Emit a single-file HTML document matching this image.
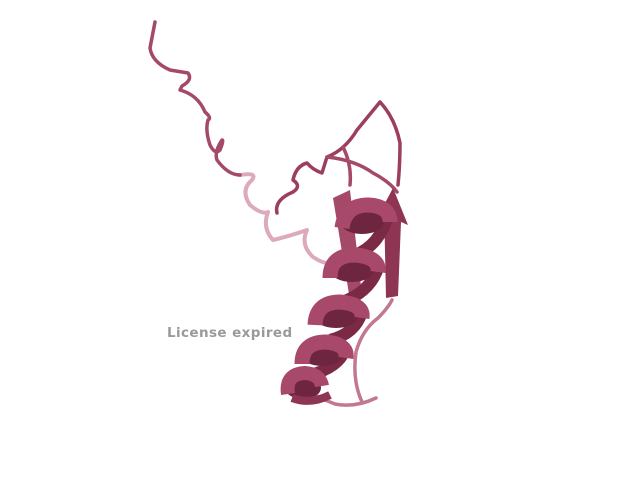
<!DOCTYPE html>
<html><head><meta charset="utf-8"><style>
html,body{margin:0;padding:0;background:#fff}
svg{display:block}
</style></head><body>
<svg width="640" height="480" viewBox="0 0 640 480">
<g fill="none" stroke-linecap="round" stroke-linejoin="round">
<path d="M240,175 Q258,172 252,180 Q240,190 250,205 Q262,215 268,212 Q262,228 273,240 Q290,236 307,230 Q300,245 313,257 Q325,265 330,262" stroke="#dcaabc" stroke-width="4"/>
<path d="M300,385 Q318,398 335,404 Q355,408 376,398 M362,402 Q352,380 356,352 Q362,330 378,318 Q388,308 392,300" stroke="#c27890" stroke-width="3.5"/>
<path d="M155,22 L150,48 Q152,62 170,70 L188,73 Q193,80 182,86 L180,90 Q198,95 205,112 Q212,118 208,120 Q205,130 210,145 Q215,155 220,150 Q224,140 222,140 Q214,152 217,160 Q228,175 240,175" stroke="#a44a68" stroke-width="3.5"/>
<path d="M277,213 Q274,200 293,192 Q302,186 293,180 Q296,166 307,163 Q313,170 322,173 Q326,160 327,157 Q345,150 357,130 L380,102 Q395,118 400,143 Q400,165 398,185" stroke="#9c3e5e" stroke-width="3.5"/>
<path d="M327,157 Q355,160 373,173 Q390,182 397,192 M343,147 Q352,165 350,185" stroke="#a44a68" stroke-width="3.5"/>
</g>
<path d="M333,198 L350,190 L362,295 L350,300 Z" fill="#a44a68"/>
<path d="M384,205 L393,188 L408,225 L401,222 L398,296 L386,298 Z" fill="#8d3553"/>
<g fill="none" stroke-linecap="butt">
<!-- back strands of helix (darker) -->
<path d="M388,215 Q380,245 355,255" stroke="#7a2a45" stroke-width="12"/>
<path d="M378,268 Q370,292 342,302" stroke="#7a2a45" stroke-width="12"/>
<path d="M362,312 Q355,334 330,340" stroke="#7a2a45" stroke-width="12"/>
<path d="M345,350 Q338,368 310,375" stroke="#7a2a45" stroke-width="12"/>
<!-- inner dark -->
<ellipse cx="362" cy="222" rx="22" ry="12" fill="#6e2540"/>
<ellipse cx="352" cy="270" rx="22" ry="12" fill="#6e2540"/>
<ellipse cx="336" cy="316" rx="22" ry="12" fill="#6e2540"/>
<ellipse cx="322" cy="355" rx="21" ry="11" fill="#6e2540"/>
<ellipse cx="303" cy="388" rx="18" ry="11" fill="#6e2540"/>
<!-- front bands -->
<path d="M342,228 Q345,205 368,205 Q390,206 390,222" stroke="#a8486a" stroke-width="15"/>
<path d="M330,278 Q330,255 355,255 Q380,257 378,272" stroke="#a8486a" stroke-width="15"/>
<path d="M315,325 Q316,302 340,302 Q364,304 362,318" stroke="#a8486a" stroke-width="15"/>
<path d="M302,364 Q302,342 326,342 Q348,344 346,358" stroke="#a8486a" stroke-width="15"/>
<path d="M288,394 Q285,374 305,373 Q320,374 322,386" stroke="#a8486a" stroke-width="14"/>
<path d="M292,398 Q310,405 330,395" stroke="#8d3553" stroke-width="8"/>
</g>
<text x="167" y="337" font-family="'DejaVu Sans','Liberation Sans',sans-serif" font-weight="bold" font-size="13.5" letter-spacing="0.4" fill="#9a9a9a">License expired</text>
</svg>
</body></html>
